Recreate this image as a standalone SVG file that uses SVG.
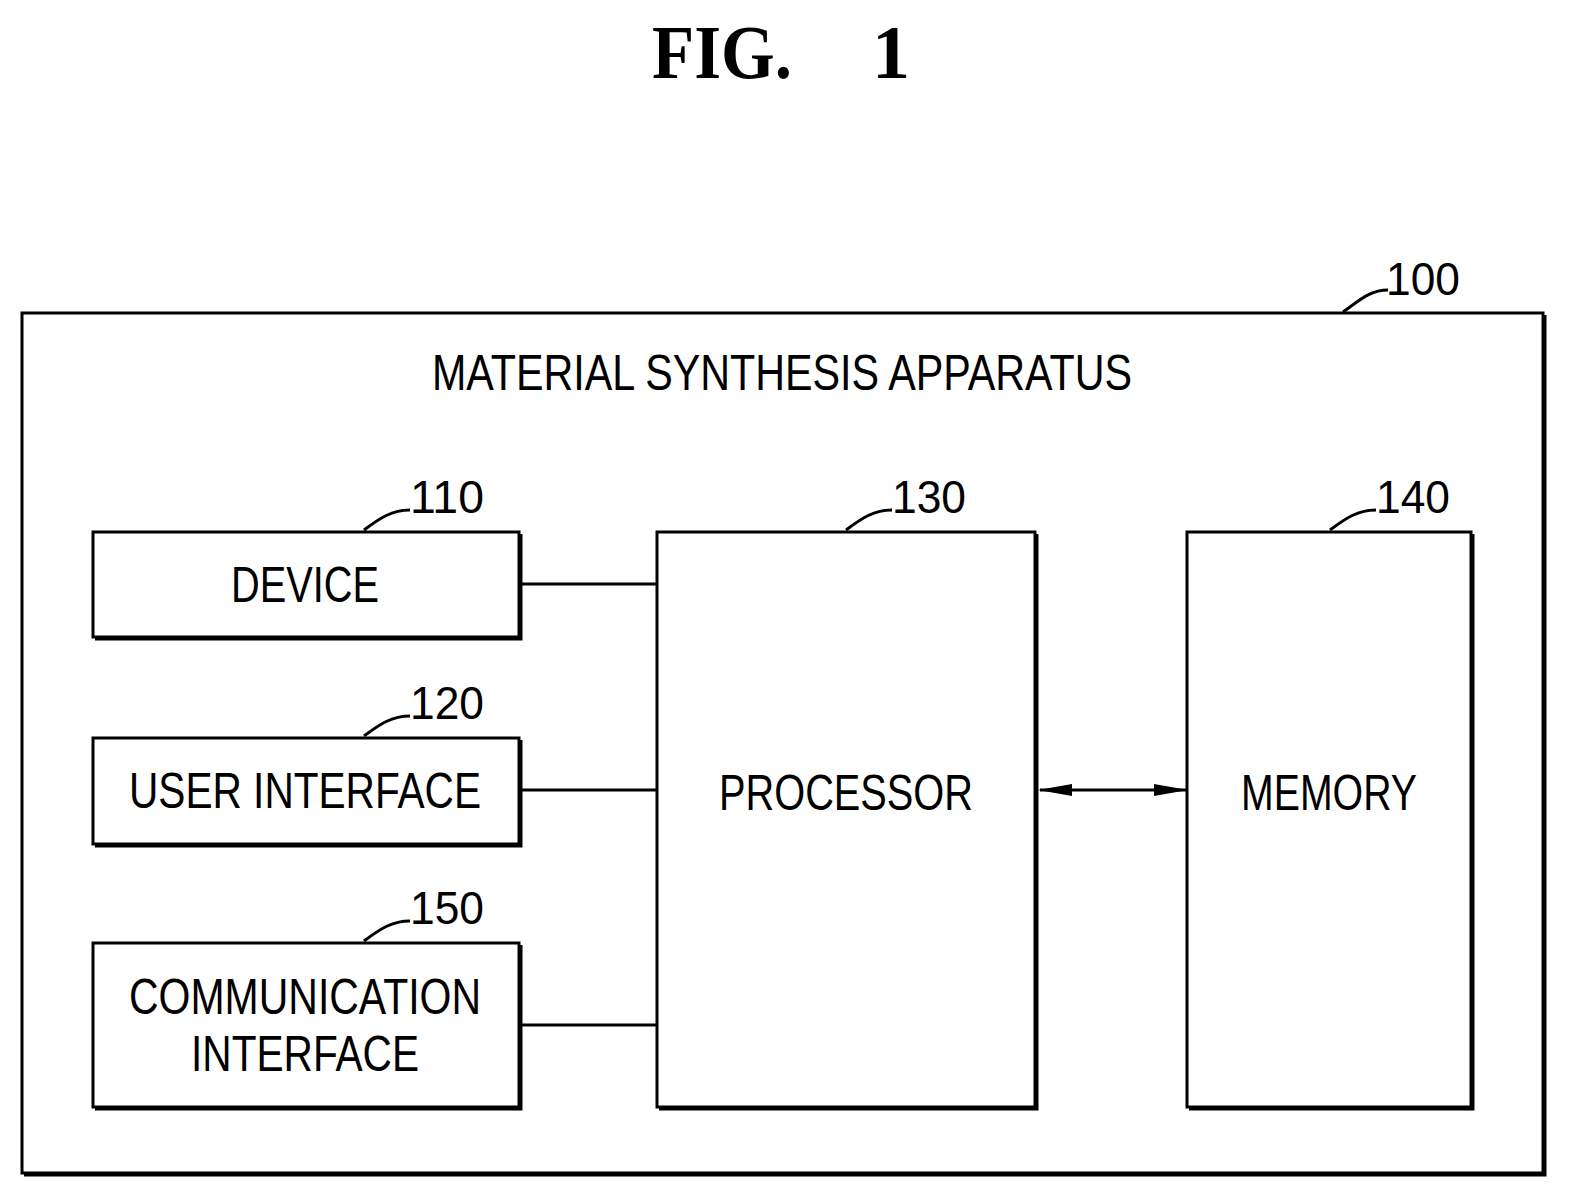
<svg xmlns="http://www.w3.org/2000/svg" width="1573" height="1202" viewBox="0 0 1573 1202">
<style>
.b{fill:#fff;stroke:#000;stroke-width:3}
.s{fill:none;stroke:#000;stroke-width:3}
.t{font-family:"Liberation Sans",Arial,sans-serif;font-size:50px;fill:#000}
.n{font-family:"Liberation Sans",Arial,sans-serif;font-size:46px;fill:#000}
.f{font-family:"Liberation Serif",serif;font-weight:bold;font-size:76px;fill:#000}
</style>
<defs><marker id="a" markerWidth="34" markerHeight="14" refX="32" refY="7" orient="auto-start-reverse" markerUnits="userSpaceOnUse"><path d="M0,1L34,7L0,13z" fill="#000"/></marker></defs>
<text class="f" x="652" y="78" textLength="140" lengthAdjust="spacingAndGlyphs">FIG.</text>
<text class="f" x="872" y="78">1</text>
<g id="n100">
<rect class="b" x="22" y="313" width="1521" height="860"/>
<path class="s" d="M1545,315V1175H24" stroke-width="5"/>
<text class="t" x="432" y="390" textLength="700" lengthAdjust="spacingAndGlyphs">MATERIAL SYNTHESIS APPARATUS</text>
<path class="s" d="M1343,312C1360,300 1370,290 1388,290"/>
<text class="n" x="1386" y="295" textLength="74" lengthAdjust="spacingAndGlyphs">100</text>
</g>
<g id="n110">
<rect class="b" x="93" y="532" width="426" height="105"/>
<path class="s" d="M521,534V639H95" stroke-width="5"/>
<text class="t" x="305" y="602" text-anchor="middle" textLength="148" lengthAdjust="spacingAndGlyphs">DEVICE</text>
<path class="s" d="M364,530C380,518 392,510 410,510"/>
<text class="n" x="410" y="513" textLength="74" lengthAdjust="spacingAndGlyphs">110</text>
</g>
<g id="n120">
<rect class="b" x="93" y="738" width="426" height="106"/>
<path class="s" d="M521,740V846H95" stroke-width="5"/>
<text class="t" x="305" y="808" text-anchor="middle" textLength="352" lengthAdjust="spacingAndGlyphs">USER INTERFACE</text>
<path class="s" d="M364,736C380,724 392,716 410,716"/>
<text class="n" x="410" y="719" textLength="74" lengthAdjust="spacingAndGlyphs">120</text>
</g>
<g id="n150">
<rect class="b" x="93" y="943" width="426" height="164"/>
<path class="s" d="M521,945V1109H95" stroke-width="5"/>
<text class="t" x="305" y="1014" text-anchor="middle" textLength="352" lengthAdjust="spacingAndGlyphs">COMMUNICATION</text>
<text class="t" x="305" y="1071" text-anchor="middle" textLength="228" lengthAdjust="spacingAndGlyphs">INTERFACE</text>
<path class="s" d="M364,941C380,929 392,921 410,921"/>
<text class="n" x="410" y="924" textLength="74" lengthAdjust="spacingAndGlyphs">150</text>
</g>
<g id="n130">
<rect class="b" x="657" y="532" width="378" height="575"/>
<path class="s" d="M1037,534V1109H659" stroke-width="5"/>
<text class="t" x="846" y="810" text-anchor="middle" textLength="254" lengthAdjust="spacingAndGlyphs">PROCESSOR</text>
<path class="s" d="M846,530C862,518 874,510 892,510"/>
<text class="n" x="892" y="513" textLength="74" lengthAdjust="spacingAndGlyphs">130</text>
</g>
<g id="n140">
<rect class="b" x="1187" y="532" width="284" height="575"/>
<path class="s" d="M1473,534V1109H1189" stroke-width="5"/>
<text class="t" x="1329" y="810" text-anchor="middle" textLength="176" lengthAdjust="spacingAndGlyphs">MEMORY</text>
<path class="s" d="M1330,530C1346,518 1358,510 1376,510"/>
<text class="n" x="1376" y="513" textLength="74" lengthAdjust="spacingAndGlyphs">140</text>
</g>
<g id="connectors">
<line class="s" x1="521" y1="584" x2="657" y2="584"/>
<line class="s" x1="521" y1="790" x2="657" y2="790"/>
<line class="s" x1="521" y1="1025" x2="657" y2="1025"/>
<line class="s" x1="1040" y1="790" x2="1186" y2="790" marker-start="url(#a)" marker-end="url(#a)"/>
</g>
</svg>
